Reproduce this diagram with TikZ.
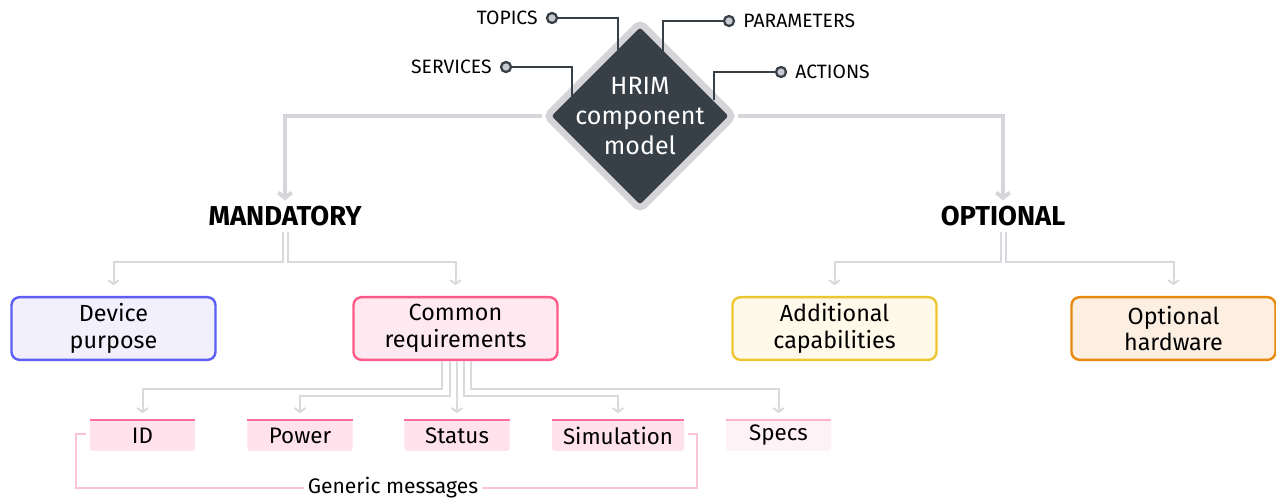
\documentclass[tikz,border=0pt]{standalone}
\usepackage{fontspec}
\setmainfont{Fira Sans}
\usetikzlibrary{positioning,shapes.geometric,arrows.meta,calc}

\definecolor{hrimdark}{HTML}{373F47}
\definecolor{hrimrim}{HTML}{D5D5D9}
\definecolor{portfill}{HTML}{C8CBCF}
\definecolor{flowgray}{HTML}{D6D6DA}
\definecolor{twiggray}{HTML}{DADADE}
\definecolor{devline}{HTML}{5C5EF4}
\definecolor{devfill}{HTML}{F2F0FD}
\definecolor{reqline}{HTML}{FF5A89}
\definecolor{reqfill}{HTML}{FFE9F0}
\definecolor{capline}{HTML}{EEC630}
\definecolor{capfill}{HTML}{FFF9E9}
\definecolor{hwline}{HTML}{E8880C}
\definecolor{hwfill}{HTML}{FDEEE2}
\definecolor{msgfill}{HTML}{FFE2EB}
\definecolor{msgtop}{HTML}{FF6D98}
\definecolor{specfill}{HTML}{FFF2F6}
\definecolor{spectop}{HTML}{FFB3C8}
\definecolor{brackline}{HTML}{FAC4D4}

\tikzset{
  port/.style={circle, draw=hrimdark, fill=portfill, line width=1.7pt,
    minimum size=7.5pt, inner sep=0pt},
  portlbl/.style={font=\fontsize{14.5}{16}\selectfont, inner sep=0pt},
  wire/.style={draw=hrimdark, line width=1.9pt},
  flow/.style={draw=flowgray, line width=3pt,
    -{Straight Barb[length=4pt,width=10pt,line width=3pt]}},
  twig/.style={draw=twiggray, line width=1.5pt,
    -{Straight Barb[length=3pt,width=8pt,line width=1.5pt]}},
  branch/.style={font=\bfseries\fontsize{20.5}{22}\selectfont, inner sep=4pt},
  block/.style={rounded corners=6pt, line width=1.8pt, align=center,
    minimum width=153pt, minimum height=47pt,
    font=\fontsize{17.5}{20}\selectfont},
  msg/.style={rounded corners=2pt, minimum height=23pt, inner sep=0pt,
    font=\fontsize{16.8}{18}\selectfont},
  bracket/.style={draw=brackline, line width=0.9pt},
}

\begin{document}
\begin{tikzpicture}[x=0.75pt, y=-0.75pt]
  \useasboundingbox (0,0) rectangle (1276,500);

  \node[diamond, aspect=1, fill=hrimdark, draw=hrimrim, line width=5pt,
    rounded corners=4pt, minimum width=142pt, minimum height=142pt,
    inner sep=0pt] (hrim) at (640,116) {};
  \node[text=white, align=center, font=\fontsize{18.8}{22.5}\selectfont]
    (hrimtxt) at (hrim.center) {HRIM\\component\\model};

  \node[port] (ptopics) at (552,18) {};
  \node[portlbl, left=6pt of ptopics] (ltopics) {TOPICS};
  \node[port] (pservices) at (506,67) {};
  \node[portlbl, left=6pt of pservices] (lservices) {SERVICES};
  \node[port] (pparams) at (729,21) {};
  \node[portlbl, right=6pt of pparams] (lparams) {PARAMETERS};
  \node[port] (pactions) at (781,72) {};
  \node[portlbl, right=6pt of pactions] (lactions) {ACTIONS};

  \coordinate (ttopics) at (618,50);
  \coordinate (tservices) at (572,96);
  \coordinate (tparams) at (663,52);
  \coordinate (tactions) at (714,100);

  \draw[wire] (ptopics) -| (ttopics);
  \draw[wire] (pservices) -| (tservices);
  \draw[wire] (tparams) |- (pparams);
  \draw[wire] (tactions) |- (pactions);

  \node[branch] (mand) at (285,216) {MANDATORY};
  \node[branch] (opt) at (1003,216) {OPTIONAL};

  \draw[flow] (hrim.west) -| (mand.north);
  \draw[flow] (hrim.east) -| (opt.north);

  \node[block, draw=devline, fill=devfill] (devp) at (113.5,328.5) {Device\\purpose};
  \node[block, draw=reqline, fill=reqfill] (comreq) at (455.5,328.5) {Common\\requirements};
  \node[block, draw=capline, fill=capfill] (addcap) at (834.5,328.5) {Additional\\capabilities};
  \node[block, draw=hwline, fill=hwfill] (opthw) at (1173.5,328.5) {Optional\\hardware};

  \draw[twig, shorten >=8pt] ($(mand.south)+(-2.5,0)$) -- ++(0,30) -| (devp.north);
  \draw[twig, shorten >=8pt] ($(mand.south)+(2.5,0)$) -- ++(0,30) -| (comreq.north);
  \draw[twig, shorten >=8pt] ($(opt.south)+(-2.5,0)$) -- ++(0,30) -| (addcap.north);
  \draw[twig, shorten >=8pt] ($(opt.south)+(2.5,0)$) -- ++(0,30) -| (opthw.north);

  \node[msg, fill=msgfill, minimum width=79pt] (id) at (142.5,435.5) {ID};
  \node[msg, fill=msgfill, minimum width=79pt] (power) at (300,435.5) {Power};
  \node[msg, fill=msgfill, minimum width=79pt] (status) at (457,435.5) {Status};
  \node[msg, fill=msgfill, minimum width=99pt] (sim) at (618,435.5) {Simulation};
  \node[msg, fill=specfill, minimum width=79pt] (specs) at (778.5,435.5) {Specs};

  \draw[msgtop, line width=1.5pt] (id.north west) -- (id.north east);
  \draw[msgtop, line width=1.5pt] (power.north west) -- (power.north east);
  \draw[msgtop, line width=1.5pt] (status.north west) -- (status.north east);
  \draw[msgtop, line width=1.5pt] (sim.north west) -- (sim.north east);
  \draw[spectop, line width=1.5pt] (specs.north west) -- (specs.north east);

  \draw[twig, shorten >=5pt] ($(comreq.south)+(-13.5,0)$) -- ++(0,28) -| (id.north);
  \draw[twig, shorten >=5pt] ($(comreq.south)+(-5.5,0)$) -- ++(0,35) -| (power.north);
  \draw[twig, shorten >=5pt] (comreq.south -| status.north) -- (status.north);
  \draw[twig, shorten >=5pt] ($(comreq.south)+(8.5,0)$) -- ++(0,35) -| (sim.north);
  \draw[twig, shorten >=5pt] ($(comreq.south)+(15.5,0)$) -- ++(0,28) -| (specs.north);

  \node[font=\fontsize{15.8}{17}\selectfont, inner sep=3pt] (gen) at (393,488) {Generic messages};
  \coordinate (gleft) at (86,434);
  \coordinate (gright) at (688,434);
  \draw[bracket] (gleft) -- ++(-10,0) |- (gen.west);
  \draw[bracket] (gright) -- ++(9,0) |- (gen.east);
\end{tikzpicture}
\end{document}
